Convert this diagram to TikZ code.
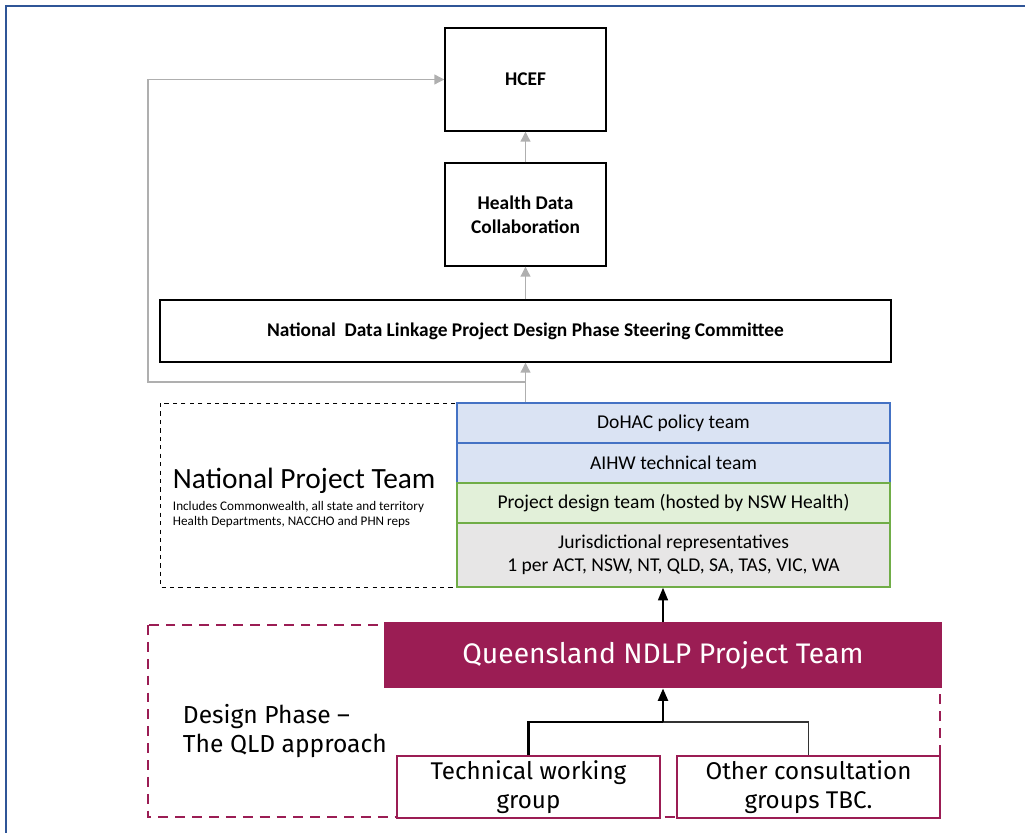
\documentclass[tikz,border=0pt]{standalone}
\usepackage{fontspec}
\setmainfont{Carlito}
\newfontfamily\qldfont{Fira Sans}
\usetikzlibrary{arrows.meta}

\definecolor{qldred}{RGB}{155,29,84}
\definecolor{frameblue}{RGB}{47,85,151}
\definecolor{edgeblue}{RGB}{68,114,196}
\definecolor{edgegreen}{RGB}{112,173,71}
\definecolor{teamblue}{RGB}{218,227,243}
\definecolor{teamgreen}{RGB}{226,240,217}
\definecolor{teamgrey}{RGB}{231,230,230}
\definecolor{linkgrey}{RGB}{175,175,175}

\tikzset{
  board/.style={draw=black, line width=1pt, align=center, minimum width=4.025cm, minimum height=2.575cm, font=\bfseries\fontsize{13.8}{17}\selectfont},
  layer/.style={line width=1pt, minimum width=10.825cm, minimum height=1cm, align=center, font=\fontsize{13.9}{16.4}\selectfont},
  uplink/.style={linkgrey, line width=0.8pt, -{Triangle[length=7pt,width=7pt]}},
  group/.style={draw=qldred, line width=1.5pt, fill=white, minimum width=6.575cm, minimum height=1.5cm, align=center, font=\qldfont\fontsize{17.2}{20.6}\selectfont},
}

\begin{document}
\begin{tikzpicture}[x=0.025cm,y=-0.025cm]
    \useasboundingbox (0,0) rectangle (1025,833);
    \draw[frameblue,line width=2pt] (6,833)--(6,6)--(1025,6);

    \node[board] (hcef) at (525.5,79.5) {HCEF};
    \node[board] (hdc) at (525.5,214.5) {Health Data\\Collaboration};
    \node[board,minimum width=18.275cm,minimum height=1.55cm] (sc) at (525.5,331) {National\ \ Data Linkage Project Design Phase Steering Committee};

    \draw[dashed,dash pattern=on 3pt off 3pt,line width=0.7pt] (160,403) rectangle (457,587);
    \node[anchor=west,font=\fontsize{20.9}{24}\selectfont] (npt) at (168,481) {National Project Team};
    \node[anchor=north west,align=left,font=\fontsize{9.35}{10.8}\selectfont] (nptnote) at (168,496) {Includes Commonwealth, all state and territory\\Health Departments, NACCHO and PHN reps};

    \node[layer,draw=edgeblue,fill=teamblue] (doh) at (673.5,423) {DoHAC policy team};
    \node[layer,draw=edgeblue,fill=teamblue] (aihw) at (673.5,463) {AIHW technical team};
    \node[layer,draw=edgegreen,fill=teamgreen] (pdt) at (673.5,503) {Project design team (hosted by NSW Health)};
    \node[layer,draw=edgegreen,fill=teamgrey,minimum height=1.6cm] (jur) at (673.5,555) {Jurisdictional representatives\\1 per ACT, NSW, NT, QLD, SA, TAS, VIC, WA};

    \draw[uplink] (hdc) -- (hcef);
    \draw[uplink] (sc) -- (hdc);
    \draw[uplink] (doh.north -| sc) -- (sc);
    \coordinate (loop) at (525,382);
    \draw[uplink] (loop) -- (148,382) |- (hcef.west);

    \draw[qldred,dashed,dash pattern=on 7pt off 5pt,line width=1.5pt] (148,625) rectangle (940,817);
    \node[anchor=west,align=left,font=\qldfont\fontsize{17.5}{21.3}\selectfont] (phase) at (178,731) {Design Phase –\\The QLD approach};

    \node[fill=qldred,text=white,minimum width=13.95cm,minimum height=1.65cm,font=\qldfont\fontsize{20.1}{24}\selectfont] (qld) at (663,655) {Queensland NDLP Project Team};
    \node[group] (twg) at (528.5,787) {Technical working\\group};
    \node[group] (ocg) at (808.5,787) {Other consultation\\groups TBC.};

    \draw[line width=1.4pt,-{Triangle[length=9pt,width=7pt]}] (qld) -- (qld.north |- jur.south);
    \coordinate (join) at (663,722);
    \draw[black!80,line width=0.8pt] (ocg) |- (join);
    \draw[line width=2pt] (twg) |- (join);
    \draw[line width=2pt,-{Triangle[length=9pt,width=7pt]}] (join) -- (qld);
\end{tikzpicture}
\end{document}
